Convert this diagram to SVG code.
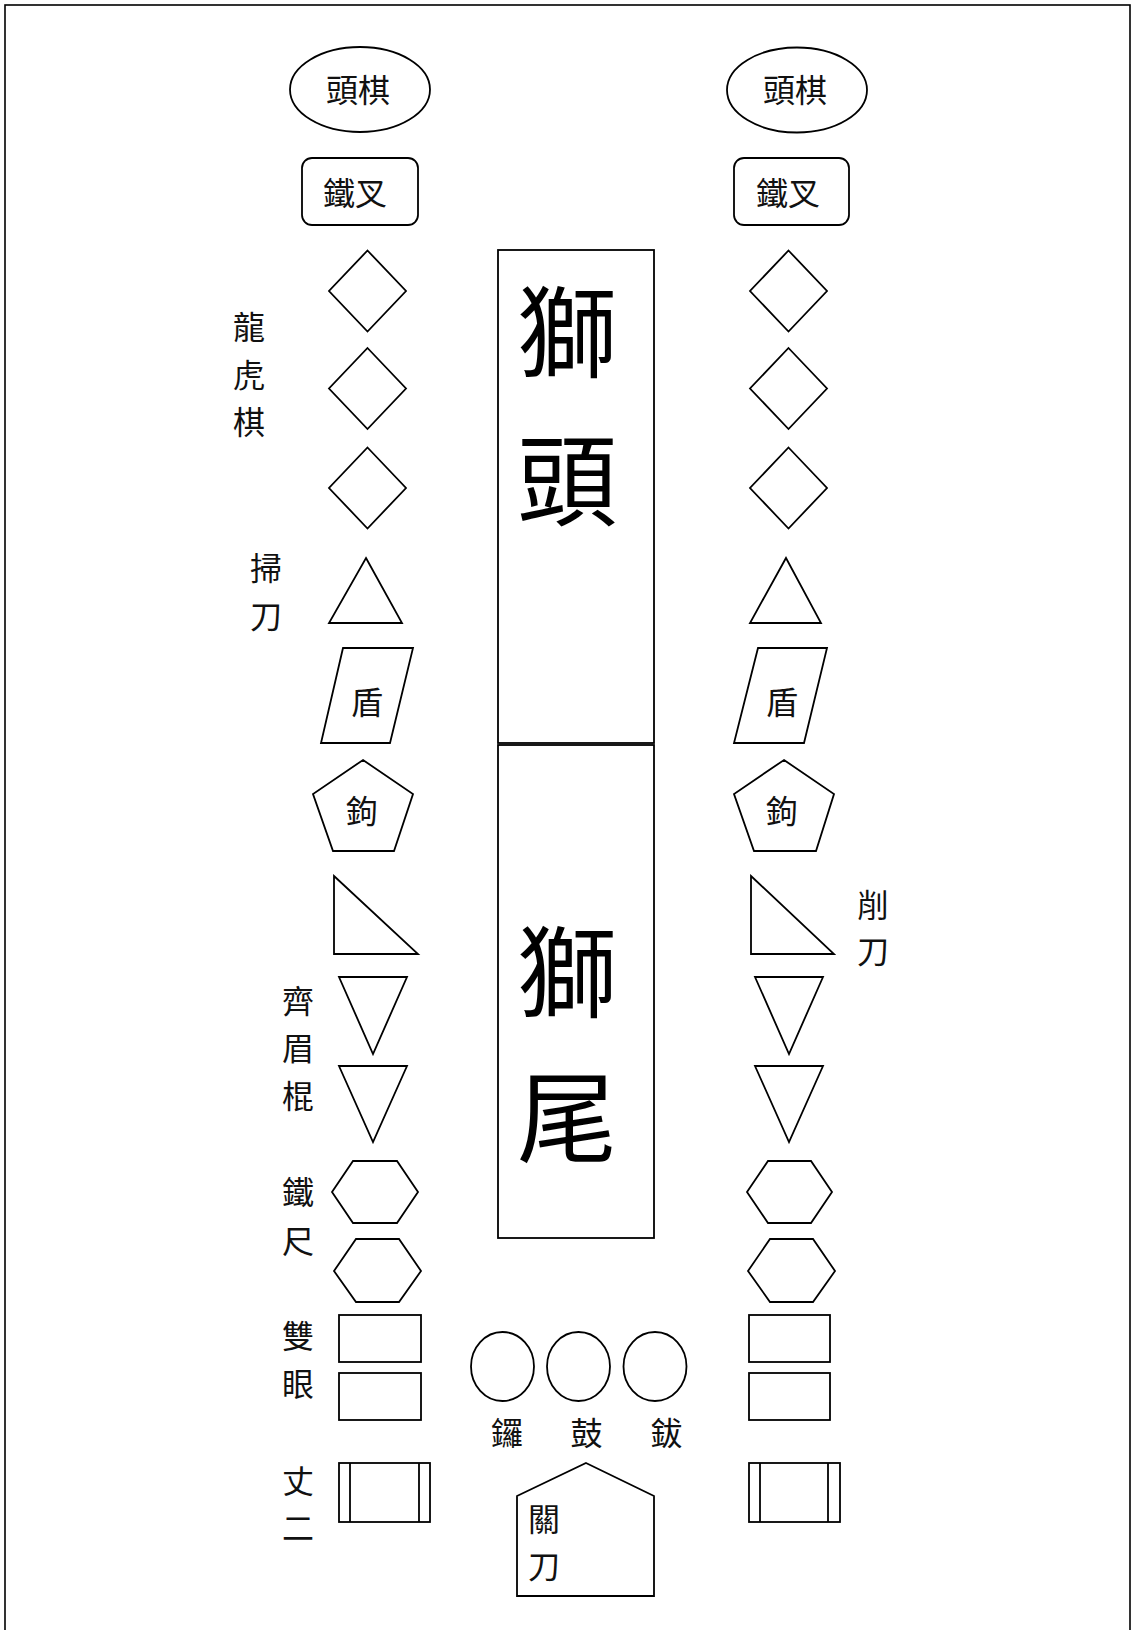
<svg xmlns="http://www.w3.org/2000/svg" width="1132" height="1630" viewBox="0 0 1132 1630">
<style>
.s{fill:#fff;stroke:#000;stroke-width:1.8;stroke-linejoin:miter}
.t{font-family:"Noto Sans CJK TC","Noto Sans CJK SC",sans-serif;font-size:32px;fill:#111;text-anchor:middle;dominant-baseline:central}
.big{font-family:"Noto Sans CJK TC","Noto Sans CJK SC",serif;font-size:100px;fill:#000;text-anchor:middle;dominant-baseline:central}
</style>
<rect x="0" y="0" width="1132" height="1630" fill="#fff"/>
<rect id="frame" x="5" y="5" width="1125" height="1660" fill="none" stroke="#000" stroke-width="1.6"/>
<g id="connectors"/>

<g id="lion-head"><rect class="s" x="498" y="250" width="156" height="493"/><text class="big" x="567" y="326">獅</text><text class="big" x="567" y="474">頭</text></g>
<g id="lion-tail"><rect class="s" x="498" y="745" width="156" height="493"/><text class="big" x="567" y="966">獅</text><text class="big" x="567" y="1111">尾</text></g>

<!-- left column -->
<g id="L-touqi"><ellipse class="s" cx="360" cy="89.5" rx="70" ry="42.5"/><text class="t" x="358" y="88">頭棋</text></g>
<g id="L-tiecha"><rect class="s" x="302" y="158" width="116" height="67" rx="10"/><text class="t" x="355" y="191">鐵叉</text></g>
<g id="L-d1"><polygon class="s" points="367.5,250.5 406,291 367.5,331.5 329,291"/></g>
<g id="L-d2"><polygon class="s" points="367.5,348 406,388.5 367.5,429 329,388.5"/></g>
<g id="L-d3"><polygon class="s" points="367.5,447.5 406,488 367.5,528.5 329,488"/></g>
<g id="L-longhuqi-label"><text class="t" x="249" y="325">龍</text><text class="t" x="249" y="373">虎</text><text class="t" x="249" y="420">棋</text></g>
<g id="L-tri"><polygon class="s" points="366,558 402,623 329,623"/></g>
<g id="L-saodao-label"><text class="t" x="266" y="566">掃</text><text class="t" x="266" y="614">刀</text></g>
<g id="L-dun"><polygon class="s" points="343,648 413,648 390,743 321,743"/><text class="t" x="367" y="700">盾</text></g>
<g id="L-gou"><polygon class="s" points="363,760 413,794 394,851 333,851 313,794"/><text class="t" x="362" y="809">鉤</text></g>
<g id="L-rtri"><polygon class="s" points="334,876 418,954 334,954"/></g>
<g id="L-inv1"><polygon class="s" points="339,977 407,977 373,1054"/></g>
<g id="L-inv2"><polygon class="s" points="339,1066 407,1066 373,1142"/></g>
<g id="L-qimeigun-label"><text class="t" x="298" y="999">齊</text><text class="t" x="298" y="1046">眉</text><text class="t" x="298" y="1094">棍</text></g>
<g id="L-hex1"><polygon class="s" points="332,1192 353,1161 397,1161 418,1192 397,1223 353,1223"/></g>
<g id="L-hex2"><polygon class="s" points="334,1271 356,1239 399,1239 421,1271 399,1302 356,1302"/></g>
<g id="L-tiechi-label"><text class="t" x="298" y="1190">鐵</text><text class="t" x="298" y="1239">尺</text></g>
<g id="L-r1"><rect class="s" x="339" y="1315" width="82" height="47"/></g>
<g id="L-r2"><rect class="s" x="339" y="1373" width="82" height="47"/></g>
<g id="L-shuangyan-label"><text class="t" x="298" y="1334">雙</text><text class="t" x="298" y="1382">眼</text></g>
<g id="L-dr"><rect class="s" x="339" y="1463" width="91" height="59"/><line class="s" x1="350" y1="1463" x2="350" y2="1522"/><line class="s" x1="419" y1="1463" x2="419" y2="1522"/></g>
<g id="L-zhanger-label"><text class="t" x="298" y="1479">丈</text><text class="t" x="298" y="1526">二</text></g>

<!-- right column -->
<g id="R-touqi"><ellipse class="s" cx="797" cy="90" rx="70" ry="42.5"/><text class="t" x="795" y="88">頭棋</text></g>
<g id="R-tiecha"><rect class="s" x="734" y="158" width="115" height="67" rx="10"/><text class="t" x="788" y="191">鐵叉</text></g>
<g id="R-d1"><polygon class="s" points="788.5,250.5 827,291 788.5,331.5 750,291"/></g>
<g id="R-d2"><polygon class="s" points="788.5,348 827,388.5 788.5,429 750,388.5"/></g>
<g id="R-d3"><polygon class="s" points="788.5,447.5 827,488 788.5,528.5 750,488"/></g>
<g id="R-tri"><polygon class="s" points="786,558 821,623 750,623"/></g>
<g id="R-dun"><polygon class="s" points="758,648 827,648 804,743 734,743"/><text class="t" x="782" y="700">盾</text></g>
<g id="R-gou"><polygon class="s" points="784,760 834,794 816,851 754,851 734,794"/><text class="t" x="782" y="809">鉤</text></g>
<g id="R-rtri"><polygon class="s" points="751,876 834,954 751,954"/></g>
<g id="R-xuedao-label"><text class="t" x="873" y="903">削</text><text class="t" x="873" y="949">刀</text></g>
<g id="R-inv1"><polygon class="s" points="755,977 823,977 789,1054"/></g>
<g id="R-inv2"><polygon class="s" points="755,1066 823,1066 789,1142"/></g>
<g id="R-hex1"><polygon class="s" points="747,1192 768,1161 811,1161 832,1192 811,1223 768,1223"/></g>
<g id="R-hex2"><polygon class="s" points="748,1271 770,1239 813,1239 835,1271 813,1302 770,1302"/></g>
<g id="R-r1"><rect class="s" x="749" y="1315" width="81" height="47"/></g>
<g id="R-r2"><rect class="s" x="749" y="1373" width="81" height="47"/></g>
<g id="R-dr"><rect class="s" x="749" y="1463" width="91" height="59"/><line class="s" x1="760" y1="1463" x2="760" y2="1522"/><line class="s" x1="828" y1="1463" x2="828" y2="1522"/></g>

<!-- bottom centre -->
<g id="luo"><ellipse class="s" cx="502.5" cy="1366.5" rx="31.5" ry="34.5"/><text class="t" x="507" y="1431">鑼</text></g>
<g id="gu"><ellipse class="s" cx="578.5" cy="1366.5" rx="31.5" ry="34.5"/><text class="t" x="586.5" y="1431">鼓</text></g>
<g id="ba"><ellipse class="s" cx="655" cy="1366.5" rx="31.5" ry="34.5"/><text class="t" x="666.5" y="1431">鈸</text></g>
<g id="guandao"><polygon class="s" points="586,1463 654,1496 654,1596 517,1596 517,1496"/><text class="t" x="544" y="1517">關</text><text class="t" x="544" y="1564">刀</text></g>
</svg>
